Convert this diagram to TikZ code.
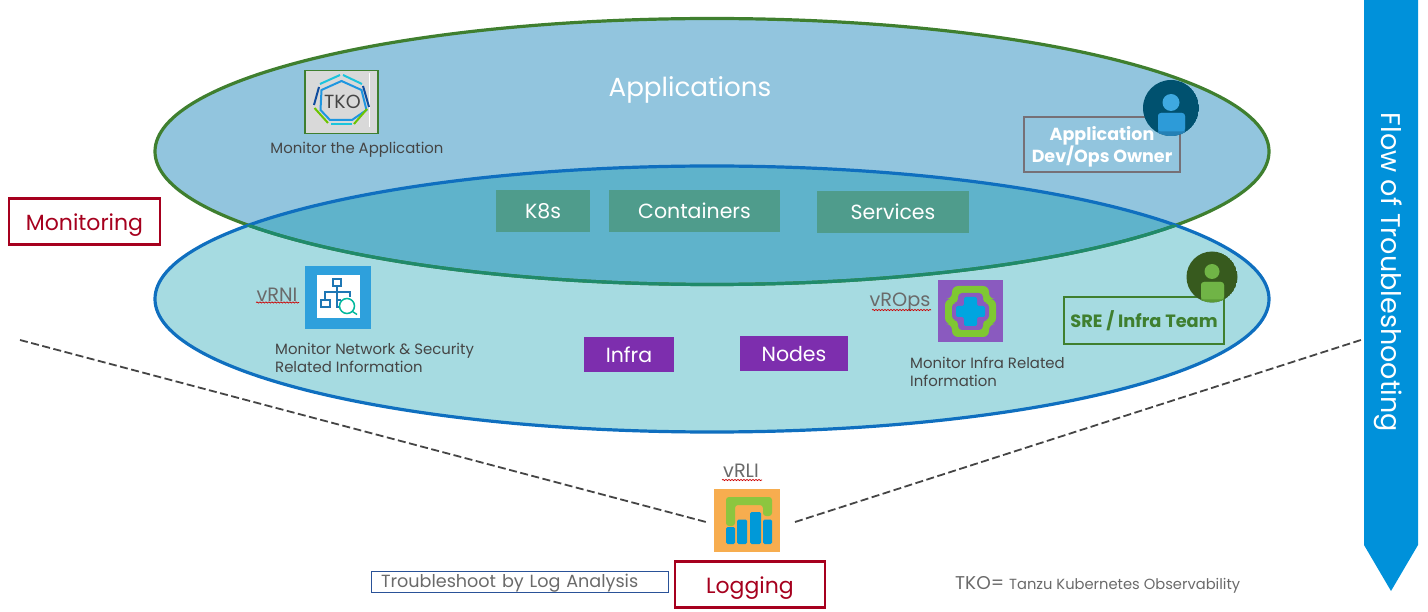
\documentclass[tikz,border=0pt]{standalone}
\usepackage{fontspec}
\setmainfont{Poppins}
\usetikzlibrary{decorations.pathmorphing,shapes.geometric}
\definecolor{topfill}{HTML}{92C5DE}
\definecolor{botfill}{HTML}{A6DBE1}
\definecolor{midfill}{HTML}{5FB3CB}
\definecolor{topline}{HTML}{3F7F2F}
\definecolor{midline}{HTML}{1F8A6B}
\definecolor{botline}{HTML}{0F6FBF}
\definecolor{tealbox}{HTML}{4F9C8C}
\definecolor{purplebox}{HTML}{7D2EAE}
\definecolor{redbox}{HTML}{A6001E}
\definecolor{flowblue}{HTML}{0091DA}
\definecolor{graytxt}{HTML}{454545}
\definecolor{midgray}{HTML}{6A6A6A}
\definecolor{sreg}{HTML}{3F7F2F}
\definecolor{ownerline}{HTML}{767076}
\definecolor{owncirc}{HTML}{00516F}
\definecolor{ownhead}{HTML}{3FA9E0}
\definecolor{ownbody}{HTML}{2D9BD8}
\definecolor{ownbase}{HTML}{2480B5}
\definecolor{srecirc}{HTML}{375A1E}
\definecolor{srebody}{HTML}{70B446}
\definecolor{srebase}{HTML}{5A9A36}
\definecolor{tkoin}{HTML}{1E96E0}
\definecolor{tkocy}{HTML}{1CC4DC}
\definecolor{tkodk}{HTML}{0F4C9E}
\definecolor{tkogr}{HTML}{6CC400}
\definecolor{rnibg}{HTML}{2EA0DC}
\definecolor{rniln}{HTML}{1F77B4}
\definecolor{rnimag}{HTML}{00B89C}
\definecolor{opsbg}{HTML}{8A5ABF}
\definecolor{opsgr}{HTML}{7FC832}
\definecolor{opsbl}{HTML}{00A5E0}
\definecolor{rlibg}{HTML}{F7AD4F}
\definecolor{rligr}{HTML}{8CC63F}
\definecolor{rlibl}{HTML}{0099D8}
\definecolor{trbline}{HTML}{2A5298}
\newcommand{\lowertext}[2]{\raisebox{-#1}[\height][\depth]{#2}}
\tikzset{
 x=1pt,y=-1pt,
 tealnode/.style={fill=tealbox,text=white,inner sep=0pt,font=\fontsize{20.5}{22}\selectfont,minimum height=42pt},
 purplenode/.style={fill=purplebox,text=white,inner sep=0pt,font=\fontsize{20.5}{22}\selectfont,minimum height=35pt},
 redframe/.style={draw=redbox,line width=2.4pt,text=redbox,fill=white,inner sep=0pt,font=\fontsize{22}{24}\selectfont,minimum height=46pt},
 caption/.style={text=graytxt,align=left,inner sep=0pt,font=\fontsize{14.9}{18}\selectfont,anchor=north west},
 prod/.style={text=midgray,inner sep=0pt,font=\fontsize{19.3}{20}\selectfont},
 squiggle/.style={draw=red!80!black,line width=0.7pt,decorate,decoration={snake,amplitude=0.6pt,segment length=3pt}},
 guide/.style={draw=graytxt,line width=1.8pt,dash pattern=on 8pt off 3.5pt},
 iconbox/.style={inner sep=0pt,minimum width=66pt,minimum height=63pt},
}
\begin{document}
\begin{tikzpicture}
\useasboundingbox (0,0) rectangle (1428,612);
% ellipses
\fill[topfill] (712,151.5) ellipse [x radius=557,y radius=133];
\fill[botfill] (712,299) ellipse [x radius=557,y radius=133];
\begin{scope}
 \clip (712,151.5) ellipse [x radius=557,y radius=133];
 \fill[midfill] (712,299) ellipse [x radius=557,y radius=133];
\end{scope}
\node[inner sep=0pt,text=white,font=\fontsize{26.2}{30}\selectfont] (apps) at (690,89.5) {Applications};
\draw[topline,line width=3.2pt] (712,151.5) ellipse [x radius=557,y radius=133];
\draw[botline,line width=3.2pt] (712,299) ellipse [x radius=557,y radius=133];
\begin{scope}
 \clip (712,299) ellipse [x radius=557,y radius=133];
 \draw[midline,line width=3.2pt] (712,151.5) ellipse [x radius=557,y radius=133];
\end{scope}
% teal and purple boxes
\node[tealnode,minimum width=94pt] (k8s) at (543,211) {K8s};
\node[tealnode,minimum width=171pt] (cont) at (694.5,211) {Containers};
\node[tealnode,minimum width=152pt] (serv) at (893,212) {Services};
\node[purplenode,minimum width=90pt] (infra) at (629,354.5) {Infra};
\node[purplenode,minimum width=108pt] (nodes) at (794,354) {Nodes};
% TKO icon
\node[draw=topline,fill=black!15,line width=1.2pt,inner sep=0pt,minimum width=73pt,minimum height=63pt] (tko) at (341.5,102) {};
\draw[white,line width=0.6pt] (369.5,73) -- (369.5,127);
\draw[tkoin,line width=2pt] (341.5,81) -- (361.5,90) -- (366.5,110) -- (352,120) -- (330,120) -- (320.5,110) -- (321.5,90) -- cycle;
\begin{scope}[line width=2pt]
 \draw[tkocy] (320,84) -- (340,75);
 \draw[tkocy] (343,75) -- (362,84);
 \draw[tkodk] (363,86) -- (369,107);
 \draw[tkogr] (367,109) -- (354,124);
 \draw[tkocy] (352,124.5) -- (331,124.5);
 \draw[tkogr] (328,123) -- (314.5,108);
 \draw[tkodk] (314,105) -- (319,87);
\end{scope}
\node[inner sep=0pt,text=graytxt,font=\fontsize{19}{24}\selectfont] (tkot) at (342.5,102) {TKO};
\node[caption,anchor=center] (tkoc) at (357,150) {Monitor the Application};
% App owner
\node[draw=ownerline,line width=2pt,inner sep=0pt,minimum width=156pt,minimum height=55pt,align=center,text=white,font=\fontsize{17.5}{22}\selectfont\bfseries] (owner) at (1102,144.5) {\lowertext{2pt}{Application}\\\lowertext{2pt}{Dev/Ops Owner}};
\begin{scope}
 \clip (1171,108) circle (28);
 \fill[owncirc] (1171,108) circle (28);
 \fill[ownhead] (1171,102.5) circle (8.5);
 \fill[ownbase,rounded corners=3pt] (1158,113) rectangle (1185,136);
 \fill[ownbody,rounded corners=3pt] (1158,113) rectangle (1185,131.5);
\end{scope}
% SRE
\node[draw=sreg,line width=2pt,inner sep=0pt,minimum width=160pt,minimum height=47pt,text=sreg,font=\fontsize{17.8}{20}\selectfont\bfseries] (sre) at (1144,320.5) {SRE / Infra Team};
\begin{scope}
 \clip (1212,277) circle (25.5);
 \fill[srecirc] (1212,277) circle (25.5);
 \fill[srebody] (1212,271.5) circle (7.5);
 \fill[srebase,rounded corners=3pt] (1201,282) rectangle (1224,304);
 \fill[srebody,rounded corners=3pt] (1201,282) rectangle (1224,299.5);
\end{scope}
% Monitoring
\node[redframe,minimum width=151pt] (mon) at (84.5,221.5) {\lowertext{4pt}{Monitoring}};
% vRNI
\node[iconbox,fill=rnibg] (vrni) at (338,298) {};
\fill[white] (317,275) rectangle (360,318);
\begin{scope}[draw=rniln,line width=1.3pt]
 \draw (333,279) rectangle (341,286);
 \draw (337,286) -- (337,292) (325,300) -- (325,292) -- (350,292) -- (350,297);
 \draw (321,300) rectangle (330,307);
 \draw (337,292) -- (337,300) (337,300) -- (341,300) (337,300) -- (337,307) -- (339,307);
\end{scope}
\draw[rnimag,line width=1.5pt] (347,306) circle (7.5) (352.5,311.5) -- (357,314.5);
\node[prod] (vrnit) at (277,295) {vRNI};
\draw[squiggle] (256,302.5) -- (299,302.5);
\node[caption] (vrnic) at (275,343) {Monitor Network \& Security\\Related Information};
% vROps
\node[iconbox,fill=opsbg,minimum width=65pt,minimum height=62pt] (vrops) at (970.5,311) {};
\fill[opsgr,rounded corners=6pt] (945,299) -- (952,299) -- (952,286) -- (989,286) -- (989,299) -- (996,299) -- (996,324) -- (989,324) -- (989,337) -- (952,337) -- (952,324) -- (945,324) -- cycle;
\fill[opsbg,rounded corners=4pt] (952,303) -- (958,303) -- (958,293) -- (983,293) -- (983,303) -- (989,303) -- (989,320) -- (983,320) -- (983,330) -- (958,330) -- (958,320) -- (952,320) -- cycle;
\fill[opsbl,rounded corners=2pt] (964,297) -- (977,297) -- (977,306) -- (985,306) -- (985,317) -- (977,317) -- (977,326) -- (964,326) -- (964,317) -- (956,317) -- (956,306) -- (964,306) -- cycle;
\node[prod] (vropst) at (900,302.5) {vROps};
\draw[squiggle] (872,310) -- (931,310);
\node[caption] (vropsc) at (910,357) {Monitor Infra Related\\Information};
% vRLI
\node[iconbox,fill=rlibg] (vrli) at (747,520.5) {};
\fill[rligr,rounded corners=3pt] (726,497) -- (772,497) -- (772,516) -- (763,516) -- (763,505) -- (735,505) -- (735,526) -- (726,526) -- cycle;
\fill[rlibl,rounded corners=1.5pt] (726,527) rectangle (735,544);
\fill[rlibl,rounded corners=1.5pt] (737,519.5) rectangle (747,544);
\fill[rlibl,rounded corners=1.5pt] (750,512) rectangle (761,544);
\fill[rlibl,rounded corners=1.5pt] (763,519.5) rectangle (772,544);
\node[prod] (vrlit) at (741,471) {vRLI};
\draw[squiggle] (722,480) -- (762,480);
% dashed guides
\coordinate (gl1) at (20,340);
\coordinate (gl2) at (706,522);
\coordinate (gr1) at (795,522);
\coordinate (gr2) at (1364,339);
\draw[guide] (gl1) -- (gl2);
\draw[guide] (gr1) -- (gr2);
% bottom labels
\node[draw=trbline,line width=1pt,inner ysep=0pt,inner xsep=10pt,text width=277pt,align=left,minimum height=21pt,text=midgray,font=\fontsize{17.6}{20}\selectfont] (trb) at (519.5,581.5) {\lowertext{2pt}{Troubleshoot by Log Analysis}};
\node[redframe,minimum width=150pt] (log) at (750,584.5) {\lowertext{4pt}{Logging}};
\node[inner sep=0pt,text=midgray,anchor=west,font=\fontsize{18.5}{20}\selectfont] (tkod) at (955,585) {TKO= {\fontsize{14.7}{20}\selectfont Tanzu Kubernetes Observability}};
% flow arrow
\fill[flowblue] (1364,0) -- (1418,0) -- (1418,545) -- (1391,591) -- (1364,545) -- cycle;
\node[rotate=-90,text=white,inner sep=0pt,font=\fontsize{27}{30}\selectfont] (flow) at (1388,272.5) {Flow of Troubleshooting};
\end{tikzpicture}
\end{document}
